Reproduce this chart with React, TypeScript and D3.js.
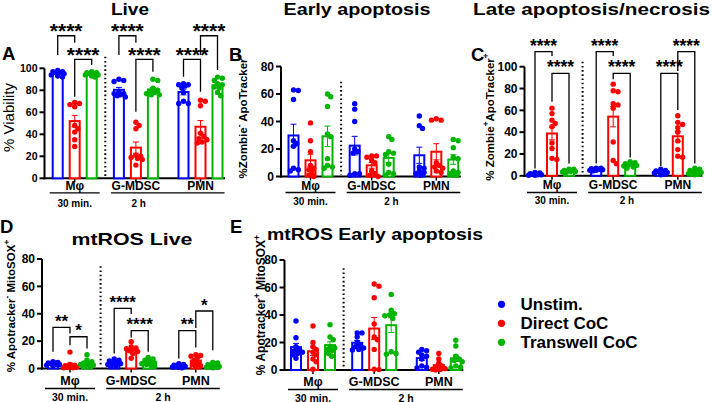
import * as d3 from 'd3';
import React from 'react';

const FONT = "'Liberation Sans', Arial, sans-serif";

const CONDITIONS = ["Unstim.", "Direct CoC", "Transwell CoC"];
const COLORS = ["#0000ff", "#ff0000", "#00b400"];
const CELLS = ["Mφ", "G-MDSC", "PMN"];
const TIMES = ["30 min.", "2 h"];
// slot of every bar along the x axis: Mφ (3) | G-MDSC (3) | PMN (3)
const SLOTS = [0, 1, 2, 3.6, 4.6, 5.6, 7.4, 8.4, 9.4];

// each row: one bar (Mφ U/D/T, G-MDSC U/D/T, PMN U/D/T), values in %
const liveViability = [
  [98, 97, 97, 96, 96, 95, 94, 93, 92],
  [69, 68, 67, 65, 48, 45, 42, 35, 29],
  [97, 96, 96, 95, 95, 94, 94, 93, 92],
  [90, 89, 88, 78, 77, 77, 76, 75, 74],
  [51, 48, 45, 21, 20, 19, 18, 17, 12],
  [90, 89, 82, 80, 79, 78, 77, 76, 76],
  [86, 85, 85, 84, 82, 78, 70, 68, 68],
  [71, 70, 66, 41, 38, 36, 35, 33, 32],
  [92, 91, 89, 86, 85, 83, 82, 78, 75],
];

const earlyApoptosis = [
  [63, 62.5, 56, 26, 24, 22, 6, 5, 4],
  [39, 26, 18, 8, 6, 5, 3, 1, 0],
  [60, 58, 51, 31, 29, 13, 8, 7, 6],
  [53, 49, 40, 20, 18, 17, 2, 2, 1],
  [15, 15, 14, 12, 10, 4, 2, 1, 0],
  [29, 27, 18, 17, 16, 9, 3, 2, 1],
  [44, 37, 35, 7, 6, 4, 3, 2, 1],
  [42, 41, 41, 10, 8, 7, 6, 4, 3],
  [27, 26, 21, 14, 13, 4, 3, 2, 1],
];

const lateApoptosis = [
  [3, 2.5, 2, 2, 1.5, 1, 1, 0.5, 0.5],
  [62, 57, 51, 48, 45, 30, 25, 16, 15],
  [6, 6, 5, 5, 4.5, 4, 4, 3.5, 3],
  [7, 7, 6.5, 6, 6, 5.5, 5, 5, 4.5],
  [84, 78, 77, 66, 65, 62, 31, 14, 11],
  [13, 12, 11, 10.5, 10, 9.5, 9, 8, 7],
  [6, 5, 4.5, 4, 3.5, 3, 2.5, 2, 1],
  [55, 49, 47, 44, 40, 32, 24, 18, 17],
  [7, 6, 5, 4, 3, 3, 2, 1.5, 1],
];

const mtrosLive = [
  [5, 4.5, 4, 4, 3.5, 3, 3, 2.5, 2],
  [12, 3, 2.5, 2, 1.5, 1, 1, 0.5, 0.5],
  [10, 6, 5, 4, 3.5, 3, 2.5, 2, 1.5],
  [7, 6, 5.5, 5, 4, 3.5, 3, 2, 1.5],
  [19.5, 16, 15, 14.5, 14, 13, 12.5, 11, 7.5],
  [8, 7, 6, 5, 4, 3.5, 3, 2, 1.5],
  [3.5, 3, 2.5, 2, 2, 1.5, 1, 1, 0.5],
  [10, 9.5, 9, 8, 6, 4, 3, 2, 1],
  [4.5, 4, 3, 2.5, 2, 1.5, 1, 1, 0.5],
];

const mtrosEarly = [
  [35.6, 23.5, 17, 15, 14, 13, 12, 11, 8.5],
  [32, 20, 17, 15, 13, 11, 8, 6, 0.5],
  [33, 24, 22, 17, 16, 15, 14, 12, 10],
  [27, 27, 24, 20, 18, 17, 16, 15, 14.5],
  [62.5, 61, 52.5, 33.5, 24, 22, 15, 0.5, 0.3],
  [55, 43.5, 41, 40, 39.5, 37.5, 13.3, 12, 11.5],
  [15, 14, 13, 11, 10, 8, 3, 2, 1.5],
  [12, 8, 5, 3, 2, 1, 0.5, 0.3, 0],
  [21.6, 17.5, 10, 8, 7, 6, 3, 2, 1.5],
];

// [bar a, bar b, bracket level, leg end a, leg end b, label] in axis units
type Stat = [number, number, number, number, number, string];
const liveStats: Stat[] = [
  [0, 1, 129.6, 112, 123.3, "****"],
  [1, 2, 108.2, 74.2, 103, "****"],
  [3, 4, 129.6, 112, 123.3, "****"],
  [4, 5, 108.2, 60.5, 96.9, "****"],
  [6, 7, 108.2, 92.4, 78.7, "****"],
  [7, 8, 129.6, 112, 98.5, "****"],
];
const lateStats: Stat[] = [
  [0, 1, 113.8, 6.7, 109.8, "****"],
  [1, 2, 93.9, 67.9, 11.3, "****"],
  [3, 4, 113.8, 11.3, 109.8, "****"],
  [4, 5, 93.9, 88.4, 16.8, "****"],
  [6, 7, 93.9, 8.9, 60.2, "****"],
  [7, 8, 113.8, 96, 11.3, "****"],
];
const mtrosLiveStats: Stat[] = [
  [0, 1, 30, 12.2, 25.6, "**"],
  [1, 2, 23.2, 17, 14.6, "*"],
  [3, 4, 43.9, 11, 39.8, "****"],
  [4, 5, 27.6, 22.7, 12.2, "****"],
  [6, 7, 27.6, 7.3, 15.4, "**"],
  [7, 8, 42, 29.5, 13.4, "*"],
];

type LabelPart = [string, boolean];

interface PanelCfg {
  letter: string; letterX: number; letterY: number;
  title: string; titleX: number; titleY: number; titleLen: number;
  yLabel: LabelPart[]; yLabelX: number; yLabelY: number; yLabelSize: number; yLabelBold: boolean;
  axisX: number; firstX: number; y0: number; yTop: number; yMax: number; sepTop: number;
  tickSize: number; starSize: number;
  catDy: number; lineDy: number; timeDy: number; catSize: number; timeSize: number; twoHShift: number;
}

const PANELS: { cfg: PanelCfg; data: number[][]; stats: Stat[] }[] = [
  {
    cfg: {
      letter: "A", letterX: 2, letterY: 60, title: "Live", titleX: 130, titleY: 15, titleLen: 38,
      yLabel: [["% Viability", false]], yLabelX: 14, yLabelY: 117.5, yLabelSize: 15, yLabelBold: false,
      axisX: 44.5, firstX: 57.7, y0: 178.3, yTop: 68.3, yMax: 100, sepTop: 110.5,
      tickSize: 10.5, starSize: 21,
      catDy: 11.5, lineDy: 14.5, timeDy: 29, catSize: 12, timeSize: 10, twoHShift: -29,
    },
    data: liveViability, stats: liveStats,
  },
  {
    cfg: {
      letter: "B", letterX: 229, letterY: 61, title: "Early apoptosis", titleX: 357, titleY: 15, titleLen: 147,
      yLabel: [["%Zombie", false], ["-", true], [" ApoTracker", false], ["+", true]],
      yLabelX: 247, yLabelY: 116, yLabelSize: 11.5, yLabelBold: true,
      axisX: 281, firstX: 293.5, y0: 176.5, yTop: 66.5, yMax: 80, sepTop: 69,
      tickSize: 12, starSize: 17.5,
      catDy: 13, lineDy: 16, timeDy: 28.5, catSize: 12, timeSize: 10, twoHShift: -12,
    },
    data: earlyApoptosis, stats: [],
  },
  {
    cfg: {
      letter: "C", letterX: 471, letterY: 61, title: "Late apoptosis/necrosis", titleX: 591.5, titleY: 15, titleLen: 237,
      yLabel: [["% Zombie", false], ["+", true], ["ApoTracker", false], ["+", true]],
      yLabelX: 494, yLabelY: 117, yLabelSize: 11.5, yLabelBold: true,
      axisX: 524.5, firstX: 535, y0: 175.8, yTop: 66.7, yMax: 100, sepTop: 104.6,
      tickSize: 12, starSize: 17.5,
      catDy: 13, lineDy: 16.7, timeDy: 28, catSize: 12, timeSize: 10, twoHShift: -18,
    },
    data: lateApoptosis, stats: lateStats,
  },
  {
    cfg: {
      letter: "D", letterX: 0, letterY: 232.7, title: "mtROS Live", titleX: 132, titleY: 245, titleLen: 121,
      yLabel: [["% Apotracker", false], ["-", true], [" MitoSOX", false], ["+", true]],
      yLabelX: 15, yLabelY: 306, yLabelSize: 11.5, yLabelBold: true,
      axisX: 42, firstX: 53, y0: 368.5, yTop: 259, yMax: 80, sepTop: 74.7,
      tickSize: 12, starSize: 17,
      catDy: 16.5, lineDy: 20, timeDy: 32.5, catSize: 12.5, timeSize: 10.5, twoHShift: 0,
    },
    data: mtrosLive, stats: mtrosLiveStats,
  },
  {
    cfg: {
      letter: "E", letterX: 230, letterY: 232.7, title: "mtROS Early apoptosis", titleX: 375, titleY: 240, titleLen: 216,
      yLabel: [["% Apotracker", false], ["+", true], [" MitoSOX", false], ["+", true]],
      yLabelX: 265, yLabelY: 305, yLabelSize: 12, yLabelBold: true,
      axisX: 284.5, firstX: 296, y0: 370, yTop: 260, yMax: 80, sepTop: 74,
      tickSize: 12, starSize: 17,
      catDy: 16, lineDy: 19.5, timeDy: 31.5, catSize: 12.5, timeSize: 10.5, twoHShift: 0,
    },
    data: mtrosEarly, stats: [],
  },
];

const R = 2.7;

// simple beeswarm so overlapping dots spread sideways
function swarm(ys: number[]): number[] {
  const xs = new Array(ys.length).fill(0);
  const placed: { x: number; y: number }[] = [];
  const order = d3.range(ys.length).sort((a, b) => ys[a] - ys[b]);
  for (const i of order) {
    let best = 0;
    let bestDist = -1;
    for (let k = 0; k < 9; k++) {
      const off = k === 0 ? 0 : (k % 2 ? 1 : -1) * Math.ceil(k / 2) * 1.6;
      const d = placed.length ? d3.min(placed, p => Math.hypot(p.x - off, p.y - ys[i]))! : 99;
      if (d >= R * 1.5) { best = off; bestDist = d; break; }
      if (d > bestDist) { best = off; bestDist = d; }
    }
    xs[i] = best;
    placed.push({ x: best, y: ys[i] });
  }
  return xs;
}

const Panel: React.FC<{ cfg: PanelCfg; data: number[][]; stats: Stat[] }> = ({ cfg, data, stats }) => {
  const x = (i: number) => cfg.firstX + SLOTS[i] * 17;
  const y = d3.scaleLinear().domain([0, cfg.yMax]).range([cfg.y0, cfg.yTop]);
  const ticks = d3.range(0, cfg.yMax + 1, 20);
  const xEnd = x(8) + 7.5;
  const sepX = cfg.firstX + 2.8 * 17;
  const lineA = [x(0) - 8, x(2) + 8];
  const lineB = [x(3) - 8, x(8) + 7];
  const fs = cfg.yLabelSize;

  return (
    <g fontFamily={FONT}>
      <text x={cfg.letterX} y={cfg.letterY} fontSize={18.5} fontWeight="bold">{cfg.letter}</text>
      <text x={cfg.titleX} y={cfg.titleY} fontSize={16.5} fontWeight="bold" textAnchor="middle"
        textLength={cfg.titleLen} lengthAdjust="spacingAndGlyphs">{cfg.title}</text>
      <text transform={`translate(${cfg.yLabelX},${cfg.yLabelY}) rotate(-90)`} textAnchor="middle"
        fontSize={fs} fontWeight={cfg.yLabelBold ? "bold" : "normal"}>
        {cfg.yLabel.map(([t, sup], k) => {
          const prevSup = k > 0 && cfg.yLabel[k - 1][1];
          const dy = sup ? -fs * 0.42 : prevSup ? fs * 0.42 : 0;
          return <tspan key={k} dy={dy} fontSize={sup ? fs * 0.72 : fs}>{t}</tspan>;
        })}
      </text>

      {/* y axis */}
      <line x1={cfg.axisX} x2={cfg.axisX} y1={y(0) + 1} y2={y(cfg.yMax)} stroke="#000" strokeWidth={2} />
      {ticks.map(t => (
        <g key={t}>
          <line x1={cfg.axisX - 5} x2={cfg.axisX} y1={y(t)} y2={y(t)} stroke="#000" strokeWidth={2} />
          <text x={cfg.axisX - 7} y={y(t)} dy="0.36em" textAnchor="end" fontSize={cfg.tickSize} fontWeight="bold">{t}</text>
        </g>
      ))}
      {/* x axis */}
      <line x1={cfg.axisX - 1} x2={xEnd} y1={y(0)} y2={y(0)} stroke="#000" strokeWidth={2} />
      {[1, 4.6, 8.4].map((s, k) => {
        const cx = cfg.firstX + s * 17;
        return (
          <g key={k}>
            <line x1={cx} x2={cx} y1={y(0)} y2={y(0) + 4} stroke="#000" strokeWidth={1.5} />
            <text x={cx} y={y(0) + cfg.catDy} textAnchor="middle" fontSize={cfg.catSize} fontWeight="bold">{CELLS[k]}</text>
          </g>
        );
      })}
      <line x1={lineA[0]} x2={lineA[1]} y1={y(0) + cfg.lineDy} y2={y(0) + cfg.lineDy} stroke="#000" strokeWidth={1.3} />
      <line x1={lineB[0]} x2={lineB[1]} y1={y(0) + cfg.lineDy} y2={y(0) + cfg.lineDy} stroke="#000" strokeWidth={1.3} />
      <text x={x(1)} y={y(0) + cfg.timeDy} textAnchor="middle" fontSize={cfg.timeSize} fontWeight="bold">{TIMES[0]}</text>
      <text x={(lineB[0] + lineB[1]) / 2 + cfg.twoHShift} y={y(0) + cfg.timeDy} textAnchor="middle"
        fontSize={cfg.timeSize} fontWeight="bold">{TIMES[1]}</text>

      {/* dotted separator */}
      <line x1={sepX} x2={sepX} y1={y(cfg.sepTop)} y2={y(0) - 2} stroke="#000" strokeWidth={2} strokeDasharray="1.6 2.6" />

      {data.map((pts, i) => {
        const color = COLORS[i % 3];
        const mean = d3.mean(pts)!;
        const sem = d3.deviation(pts)! / Math.sqrt(pts.length);
        const cx = x(i);
        const ys = pts.map(v => y(v));
        const offs = swarm(ys);
        return (
          <g key={i}>
            <rect x={cx - 5} y={y(mean)} width={10} height={y(0) - y(mean)} fill="#fff" stroke={color} strokeWidth={2} />
            <line x1={cx} x2={cx} y1={y(Math.max(0, mean - sem))} y2={y(mean + sem)} stroke={color} strokeWidth={1} />
            <line x1={cx - 3} x2={cx + 3} y1={y(mean + sem)} y2={y(mean + sem)} stroke={color} strokeWidth={1} />
            <line x1={cx - 3} x2={cx + 3} y1={y(Math.max(0, mean - sem))} y2={y(Math.max(0, mean - sem))} stroke={color} strokeWidth={1} />
            {pts.map((v, k) => (
              <circle key={k} cx={cx + offs[k]} cy={ys[k]} r={R} fill={color} />
            ))}
          </g>
        );
      })}

      {stats.map(([a, b, lvl, la, lb, label], k) => {
        const ly = y(lvl);
        return (
          <g key={k}>
            <path d={`M${x(a)},${y(la)}V${ly}H${x(b)}V${y(lb)}`} fill="none" stroke="#000" strokeWidth={1.3} />
            <text x={(x(a) + x(b)) / 2} y={ly - 12.5 + 0.72 * cfg.starSize} textAnchor="middle"
              fontSize={cfg.starSize} fontWeight="bold">{label}</text>
          </g>
        );
      })}
    </g>
  );
};

export default function App() {
  return (
    <svg width={714} height={402} viewBox="0 0 714 402"
      style={{ position: 'absolute', left: 0, top: 0, background: '#fff' }}>
      {PANELS.map((p, i) => <Panel key={i} cfg={p.cfg} data={p.data} stats={p.stats} />)}
      <g fontFamily={FONT}>
        {CONDITIONS.map((c, i) => (
          <g key={c}>
            <circle cx={501.5} cy={304.3 + i * 19} r={3.6} fill={COLORS[i]} />
            <text x={520.5} y={304.3 + i * 19 + 6} fontSize={17} fontWeight="bold">{c}</text>
          </g>
        ))}
      </g>
    </svg>
  );
}
